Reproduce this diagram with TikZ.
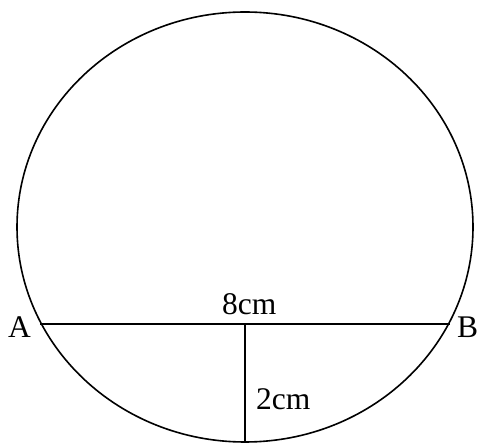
\documentclass[tikz,border=0pt]{standalone}
\usepackage{fontspec}
\setmainfont{Liberation Serif}
\begin{document}
\begin{tikzpicture}[x=1pt,y=-1pt,
  lbl/.style={inner sep=0pt,anchor=base west,font=\fontsize{31.5}{36}\selectfont},
  ln/.style={line width=1.6pt}]
\useasboundingbox (0,0) rectangle (477,443);
\begin{scope}
\clip (0,0) rectangle (477,443);
\draw[ln] (245,227) ellipse [x radius=228, y radius=215];
\end{scope}
\coordinate (A) at (40,324);
\coordinate (B) at (450,324);
\coordinate (M) at (245,324);
\coordinate (D) at (245,443);
\draw[ln] (A) -- (B);
\draw[ln] (M) -- (D);
\node[lbl] (la) at (8,338) {A};
\node[lbl] (lb) at (457,338) {B};
\node[lbl] (l8) at (222,315) {8cm};
\node[lbl] (l2) at (256,410) {2cm};
\end{tikzpicture}
\end{document}
